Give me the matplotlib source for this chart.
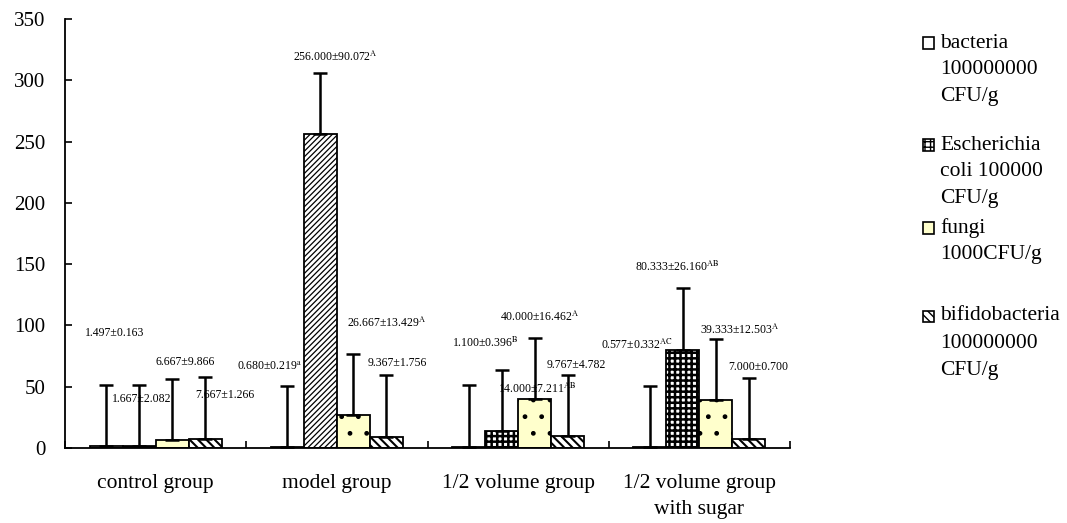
import numpy as np
import matplotlib
matplotlib.use("Agg")
import matplotlib.pyplot as plt
from matplotlib.patches import Rectangle

plt.rcParams["font.family"] = ["Liberation Serif", "DejaVu Serif"]
plt.rcParams["mathtext.fontset"] = "stix"
plt.rcParams["hatch.linewidth"] = 1.0

# data
groups = ["control group", "model group", "1/2 volume group", "1/2 volume group\nwith sugar"]
series = ["bacteria\n100000000\nCFU/g",
          "Escherichia\ncoli 100000\nCFU/g",
          "fungi\n1000CFU/g",
          "bifidobacteria\n100000000\nCFU/g"]

bacteria = [1.497, 0.680, 1.100, 0.577]
escherichia = [1.667, 256.000, 14.000, 80.333]
fungi = [6.667, 26.667, 40.000, 39.333]
bifido = [7.667, 9.367, 9.767, 7.000]
err_up = 50  # fixed-size error bar used in the original sheet

labels = ["1.497±0.163", "1.667±2.082", "6.667±9.866", "7.667±1.266",
          r"0.680±0.219$^{\mathrm{a}}$", r"256.000±90.072$^{\mathrm{A}}$",
          r"26.667±13.429$^{\mathrm{A}}$", "9.367±1.756",
          r"1.100±0.396$^{\mathrm{B}}$", r"40.000±16.462$^{\mathrm{A}}$",
          "9.767±4.782", r"14.000±7.211$^{\mathrm{AB}}$",
          r"0.577±0.332$^{\mathrm{AC}}$", r"80.333±26.160$^{\mathrm{AB}}$",
          r"39.333±12.503$^{\mathrm{A}}$", "7.000±0.700"]
# where the labels sit (x in category units, y in data units)
label_pos = [(-0.390, 94), (-0.241, 40), (-0.003, 70), (0.217, 43),
             (0.449, 66), (0.758, 319), (1.056, 102), (1.172, 69),
             (1.635, 86), (1.900, 107), (2.159, 68), (1.889, 48),
             (2.457, 84), (2.645, 148), (3.003, 96), (3.158, 66)]

faces = ["white", "white", "#FFFFCC", "white"]
hatches = ["", "+++", ".", "\\\\\\\\"]
legend_hatches = ["", "+++", "", "\\\\\\\\"]

fig = plt.figure(figsize=(10.67, 5.23), dpi=100)
W, H = 1067, 523
ax = fig.add_axes([65 / W, 1 - 448 / H, (790 - 65) / W, (448 - 19) / H])

x = np.arange(len(groups))
width = 0.182
values = [bacteria, escherichia, fungi, bifido]
for i, vals in enumerate(values):
    pos = x + (i - 1.5) * width
    bars = ax.bar(pos, vals, width, color=faces[i], edgecolor="black",
                  hatch=hatches[i], linewidth=1.3, zorder=2)
    if i == 1:
        for b in bars:
            if hasattr(b, "set_hatch_linewidth"):
                b.set_hatch_linewidth(1.8)
        # model group bar is formatted differently in the source
        bars[1].set_hatch("//////")
        if hasattr(bars[1], "set_hatch_linewidth"):
            bars[1].set_hatch_linewidth(0.9)
    if i == 3:
        for b in bars:
            if hasattr(b, "set_hatch_linewidth"):
                b.set_hatch_linewidth(1.5)
    n = len(vals)
    ax.errorbar(pos, vals, yerr=[np.zeros(n), np.full(n, err_up)], fmt="none",
                ecolor="black", elinewidth=1.8, capsize=4.7, capthick=1.8, zorder=3)

for txt, (lx, ly) in zip(labels, label_pos):
    ax.text(lx, ly, txt, fontsize=8.5, ha="left", va="center", zorder=4)

ax.set_xlim(-0.5, 3.5)
ax.set_ylim(0, 350)
ax.set_yticks(range(0, 351, 50))
ax.set_xticks(x)
ax.set_xticklabels(groups, linespacing=1.45)
ax.set_xticks(np.arange(-0.5, 3.6, 1.0), minor=True)
ax.tick_params(axis="x", which="major", length=0, pad=19, labelsize=15.5)
ax.tick_params(axis="x", which="minor", direction="in", length=5, width=1.2)
ax.tick_params(axis="y", direction="in", length=5, width=1.2, pad=14, labelsize=15)
for s in ["top", "right"]:
    ax.spines[s].set_visible(False)
for s in ["left", "bottom"]:
    ax.spines[s].set_linewidth(1.3)

# legend drawn by hand to match the spacing of the original
entry_y = [43, 145, 228, 316]
for i, lab in enumerate(series):
    y0 = entry_y[i]
    r = Rectangle((923 / W, 1 - (y0 + 5.5) / H), 11 / W, 11 / H,
                  transform=fig.transFigure, facecolor=faces[i], edgecolor="black",
                  hatch=legend_hatches[i], linewidth=1.2)
    fig.add_artist(r)
    for k, line in enumerate(lab.split("\n")):
        fig.text(940 / W, 1 - (y0 + 27 * k) / H, line, fontsize=15.5, va="center", ha="left")

fig.savefig("out.png", dpi=100)
